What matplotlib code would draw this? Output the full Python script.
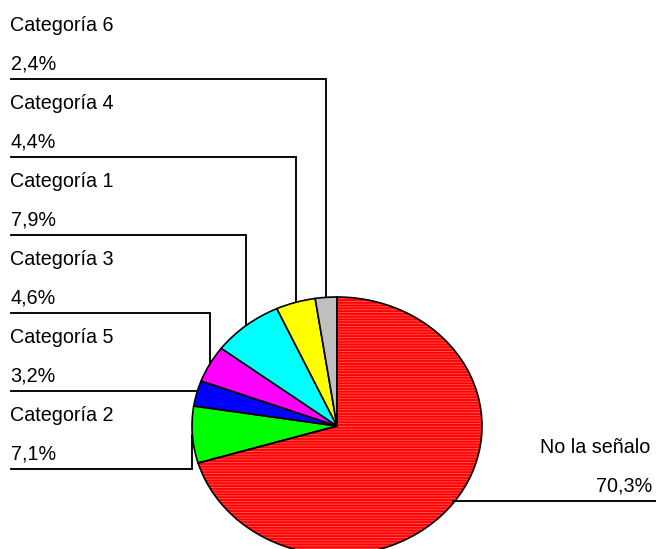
import numpy as np
import matplotlib
matplotlib.use("Agg")
import matplotlib.pyplot as plt
from matplotlib.patches import Wedge

# Shares (%) in drawing order, clockwise from 12 o'clock
categories = ["No la señalo", "Categoría 2", "Categoría 5", "Categoría 3",
              "Categoría 1", "Categoría 4", "Categoría 6"]
values = [70.3, 7.1, 3.2, 4.6, 7.9, 4.4, 2.4]
pct_labels = ["70,3%", "7,1%", "3,2%", "4,6%", "7,9%", "4,4%", "2,4%"]
colors = ["#ff0000", "#00ff00", "#0000ff", "#ff00ff", "#00ffff", "#ffff00", "#c0c0c0"]

W, H = 656, 549
plt.rcParams["font.family"] = ["Liberation Sans", "DejaVu Sans"]
plt.rcParams["hatch.linewidth"] = 0.6
fig = plt.figure(figsize=(W / 100, H / 100), dpi=100)
fig.patch.set_facecolor("white")

# Elliptical pie geometry (pixels)
cx, cy, rx, ry = 337, 426, 145, 129

pax = fig.add_axes([(cx - rx) / W, (H - (cy + ry)) / H, 2 * rx / W, 2 * ry / H])
wedges, _ = pax.pie(values, colors=colors, startangle=90, counterclock=False,
                    radius=1.0,
                    wedgeprops=dict(edgecolor="black", linewidth=1.2, clip_on=False))
pax.set_aspect("auto")
pax.set_xlim(-1, 1)
pax.set_ylim(-1, 1)
pax.axis("off")

# Striped texture on the large slice, with its black outline redrawn on top
big = wedges[0]
big.set_edgecolor("#ff5a5a")
big.set_linewidth(0)
big.set_hatch("------")
outline = Wedge(big.center, big.r, big.theta1, big.theta2, facecolor="none",
                edgecolor="black", linewidth=1.2, clip_on=False, zorder=big.zorder + 0.1)
pax.add_patch(outline)

# Overlay in pixel coordinates for labels and leader lines
ov = fig.add_axes([0, 0, 1, 1], zorder=5)
ov.set_xlim(0, W)
ov.set_ylim(H, 0)
ov.axis("off")
ov.patch.set_alpha(0)

fs = 14.2
lw = 1.35

def anchor(w):
    mid = np.deg2rad((w.theta1 + w.theta2) / 2)
    return cx + rx * np.cos(mid), cy - ry * np.sin(mid)

# Left-side labels, stacked top to bottom
left_order = [6, 5, 4, 3, 2, 1]
line_y0, step = 79, 78
for k, i in enumerate(left_order):
    ly = line_y0 + k * step
    ax_, ay_ = anchor(wedges[i])
    ov.text(10.5, ly - 48, categories[i], fontsize=fs, ha="left", va="baseline")
    ov.text(10.5, ly - 10, pct_labels[i], fontsize=fs, ha="left", va="baseline")
    ov.plot([11, ax_, ax_], [ly, ly, ay_], color="black", lw=lw,
            solid_joinstyle="miter")

# Right-side label for the large slice
ax_, ay_ = anchor(wedges[0])
ly = 501
ov.text(650, ly - 48, categories[0], fontsize=fs, ha="right", va="baseline")
ov.text(652, ly - 10, pct_labels[0], fontsize=fs, ha="right", va="baseline")
ov.plot([ax_, W], [ly, ly], color="black", lw=lw)

fig.savefig("out.png", dpi=100)
